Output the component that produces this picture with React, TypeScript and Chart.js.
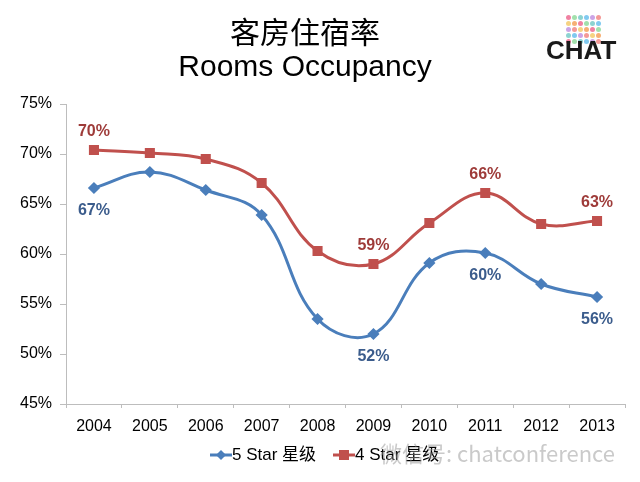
import { useEffect, useRef } from 'react';
import { Chart, registerables } from 'chart.js';

Chart.register(...registerables);

const years = ['2004', '2005', '2006', '2007', '2008', '2009', '2010', '2011', '2012', '2013'];
const fiveStar = [66.6, 68.2, 66.4, 63.9, 53.5, 52.0, 59.1, 60.1, 57.0, 55.7];
const fourStar = [70.4, 70.1, 69.5, 67.1, 60.3, 59.0, 63.1, 66.1, 63.0, 63.3];
const labelYears = ['2004', '2009', '2011', '2013'];
const seriesNames = ['5 Star 星级', '4 Star 星级'];
const yTicks = [45, 50, 55, 60, 65, 70, 75];

const FONT = "'Liberation Sans', Arial, 'Noto Sans CJK SC', sans-serif";
const BLUE = '#4A7EBB';
const RED = '#C0504D';
const BLUE_LABEL = '#3B5C8C';
const RED_LABEL = '#9E3B39';

const logoColors = ['#e94b7a', '#4bb3e9', '#f2c14e', '#7bd389', '#b57edc', '#f28f3b', '#5bc0be', '#ef6f6c'];

const valueLabels = {
  id: 'valueLabels',
  afterDatasetsDraw(chart: Chart) {
    const ctx = chart.ctx;
    ctx.save();
    ctx.font = `bold 16px ${FONT}`;
    ctx.textAlign = 'center';
    ctx.textBaseline = 'middle';
    chart.data.datasets.forEach((ds: any, di: number) => {
      const meta = chart.getDatasetMeta(di);
      const above = di === 1;
      ctx.fillStyle = above ? RED_LABEL : BLUE_LABEL;
      labelYears.forEach((yr) => {
        const i = years.indexOf(yr);
        const pt = meta.data[i];
        if (!pt) return;
        const v = ds.data[i] as number;
        ctx.fillText(Math.round(v) + '%', pt.x, pt.y + (above ? -18 : 23));
      });
    });
    ctx.restore();
  },
};

// legend marker: line with the series' point shape in the middle
function LegendMark({ color, square }: { color: string; square: boolean }) {
  return (
    <svg width="22" height="12" style={{ display: 'block' }}>
      <line x1="0" y1="6" x2="22" y2="6" stroke={color} strokeWidth="3" />
      {square ? (
        <rect x="6" y="1" width="10" height="10" fill={color} />
      ) : (
        <polygon points="11,1 16,6 11,11 6,6" fill={color} />
      )}
    </svg>
  );
}

export default function App() {
  const canvasRef = useRef<HTMLCanvasElement | null>(null);

  useEffect(() => {
    if (!canvasRef.current) return;
    const chart = new Chart(canvasRef.current, {
      type: 'line',
      data: {
        labels: years,
        datasets: [
          {
            label: seriesNames[0],
            data: fiveStar,
            borderColor: BLUE,
            backgroundColor: BLUE,
            borderWidth: 3,
            tension: 0.4,
            pointStyle: 'rectRot',
            pointRadius: 4,
            pointHoverRadius: 4,
          },
          {
            label: seriesNames[1],
            data: fourStar,
            borderColor: RED,
            backgroundColor: RED,
            borderWidth: 3,
            tension: 0.4,
            pointStyle: 'rect',
            pointRadius: 5,
            pointHoverRadius: 5,
          },
        ],
      },
      options: {
        animation: false,
        responsive: true,
        maintainAspectRatio: false,
        layout: { padding: { top: 104, left: 0, right: 15, bottom: 48 } },
        plugins: {
          tooltip: { enabled: false },
          legend: { display: false },
        },
        scales: {
          x: {
            offset: true,
            afterFit: (s: any) => {
              s.height = 30;
            },
            grid: { offset: true, drawOnChartArea: false, color: '#bdbdbd', tickLength: 4 },
            border: { color: '#bdbdbd', width: 1 },
            ticks: { color: '#000', padding: 9, font: { family: FONT, size: 16 } },
          },
          y: {
            min: yTicks[0],
            max: yTicks[yTicks.length - 1],
            afterBuildTicks: (s: any) => {
              s.ticks = yTicks.map((v) => ({ value: v }));
            },
            afterFit: (s: any) => {
              s.width = 66;
            },
            grid: { drawOnChartArea: false, color: '#bdbdbd', tickLength: 6 },
            border: { color: '#bdbdbd', width: 1 },
            ticks: {
              color: '#000',
              padding: 8,
              font: { family: FONT, size: 16 },
              callback: (v: any) => v + '%',
            },
          },
        },
      },
      plugins: [valueLabels],
    });
    return () => chart.destroy();
  }, []);

  return (
    <div style={{ position: 'absolute', left: 0, top: 0, width: 640, height: 482, background: '#fff', fontFamily: FONT }}>
      <div style={{ position: 'absolute', left: 0, top: 0, width: 640, height: 482 }}>
        <canvas ref={canvasRef}></canvas>
      </div>
      <div style={{ position: 'absolute', left: 155, width: 300, top: 12, textAlign: 'center', fontSize: 30, lineHeight: '36px', color: '#000', fontFamily: "'Noto Sans CJK SC', sans-serif" }}>
        客房住宿率
      </div>
      <div style={{ position: 'absolute', left: 155, width: 300, top: 48, textAlign: 'center', fontSize: 30, lineHeight: '36px', color: '#000' }}>
        Rooms Occupancy
      </div>
      <div style={{ position: 'absolute', left: 566, top: 15, width: 38, display: 'flex', flexWrap: 'wrap', gap: 1 }}>
        {Array.from({ length: 30 }).map((_, i) => (
          <span key={i} style={{ width: 5, height: 5, borderRadius: 3, background: logoColors[(i * 3) % logoColors.length], opacity: 0.7 }} />
        ))}
      </div>
      <div style={{ position: 'absolute', left: 546, top: 36, fontSize: 26, fontWeight: 'bold', color: '#1a1a1a', lineHeight: '28px' }}>
        CHAT
      </div>
      <div style={{ position: 'absolute', left: 210, top: 444, height: 22, display: 'flex', alignItems: 'center', fontSize: 17, lineHeight: '22px', color: '#000', whiteSpace: 'nowrap' }}>
        <LegendMark color={BLUE} square={false} />
        <span style={{ marginRight: 17 }}>{seriesNames[0]}</span>
        <LegendMark color={RED} square={true} />
        <span>{seriesNames[1]}</span>
      </div>
      <div style={{ position: 'absolute', left: 380, top: 438, fontSize: 22, lineHeight: '28px', color: 'rgba(150,150,150,0.5)', fontFamily: "'Noto Sans CJK SC', sans-serif", whiteSpace: 'nowrap' }}>
        微信号: chatconference
      </div>
    </div>
  );
}
